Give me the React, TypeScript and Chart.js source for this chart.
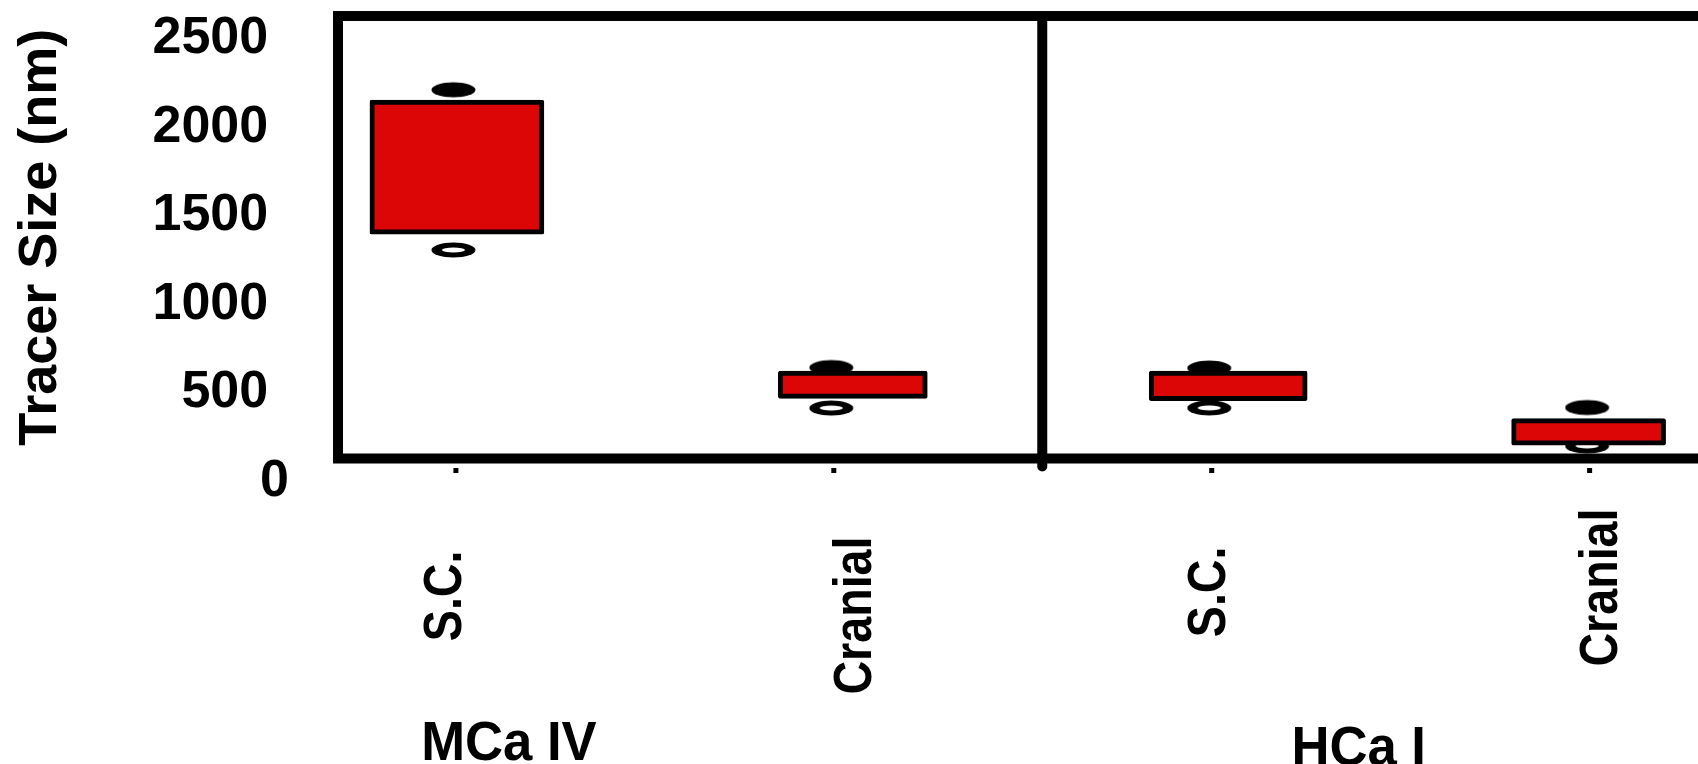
import React, { useEffect, useRef } from 'react';
import { Chart, registerables } from 'chart.js';

Chart.register(...registerables);

// ---------- data ----------
const categories = ['S.C.', 'Cranial', 'S.C.', 'Cranial'];
const groupLabels = ['MCa IV', 'HCa I'];
const groupFirstCategory = [0, 2];
const boxLow = [1268, 340, 327, 76];
const boxHigh = [2025, 494, 494, 225];
const upperMarker = [2083, 514, 511, 288];
const lowerMarker = [1178, 285, 286, 71];
const yTickValues = [0, 500, 1000, 1500, 2000, 2500];
const yTitle = 'Tracer Size (nm)';

// ---------- styles ----------
const FONT = "'Liberation Sans', Arial, Helvetica, sans-serif";
const RED = 'rgb(221, 6, 6)';
const X_MIN = 0.688;
const X_MAX = 4.263;
const BOX_WIDTH = [174, 149, 158, 154];
const BOX_SHIFT = [1, 19, 16.5, -1];
const CAT_LABEL_DX = [-10, 23, -1, 13];
const CAT_LABEL_DY = [92, 78, 88, 50];
const GROUP_LABEL_DX = [53, 147];
const GROUP_LABEL_DY = [301.5, 306.5];
const DIVIDER_SHIFT = 19.5;

function makeEllipse(filled: boolean): HTMLCanvasElement {
  const c = document.createElement('canvas');
  c.width = 50;
  c.height = 18;
  const g = c.getContext('2d')!;
  g.fillStyle = '#000';
  g.beginPath();
  g.ellipse(22.5, 9, 22, 7.5, 0, 0, Math.PI * 2);
  g.fill();
  if (!filled) {
    g.fillStyle = '#fff';
    g.beginPath();
    g.ellipse(22.5, 9, 11.5, 2.4, 0, 0, Math.PI * 2);
    g.fill();
  }
  return c;
}

const framePlugin = {
  id: 'framePlugin',
  afterDatasetsUpdate(chart: any) {
    const xs = chart.scales.x;
    const meta = chart.getDatasetMeta(0);
    meta.data.forEach((el: any, i: number) => {
      el.x = xs.getPixelForValue(i + 1) + BOX_SHIFT[i];
      el.width = BOX_WIDTH[i];
    });
  },
  beforeDatasetsDraw(chart: any) {
    const { ctx, chartArea } = chart;
    const { left, top, right, bottom } = chartArea;
    const xs = chart.scales.x;
    ctx.save();
    ctx.strokeStyle = '#000';
    ctx.lineWidth = 10;
    ctx.lineJoin = 'miter';
    ctx.lineCap = 'butt';
    ctx.beginPath();
    ctx.moveTo(right + 20, top);
    ctx.lineTo(left, top);
    ctx.lineTo(left, bottom);
    ctx.lineTo(right + 20, bottom);
    ctx.stroke();
    const g = groupFirstCategory[1];
    const dvx = (xs.getPixelForValue(g) + xs.getPixelForValue(g + 1)) / 2 + DIVIDER_SHIFT;
    ctx.lineCap = 'round';
    ctx.beginPath();
    ctx.moveTo(dvx, top);
    ctx.lineTo(dvx, bottom + 8);
    ctx.stroke();
    ctx.restore();
  },
  afterDraw(chart: any) {
    const { ctx, chartArea } = chart;
    const { bottom } = chartArea;
    const xs = chart.scales.x;
    ctx.save();
    ctx.fillStyle = '#000';
    categories.forEach((_, i) => {
      const px = xs.getPixelForValue(i + 1);
      ctx.fillRect(px - 2.5, bottom + 9.5, 5, 5);
    });
    ctx.font = `bold 53px ${FONT}`;
    ctx.textAlign = 'right';
    ctx.textBaseline = 'middle';
    categories.forEach((lab, i) => {
      const px = xs.getPixelForValue(i + 1) + CAT_LABEL_DX[i];
      ctx.save();
      ctx.translate(px, bottom + CAT_LABEL_DY[i]);
      ctx.rotate(-Math.PI / 2);
      ctx.scale(0.88, 1);
      ctx.fillText(lab, 0, 0);
      ctx.restore();
    });
    ctx.font = `bold 56px ${FONT}`;
    ctx.textAlign = 'center';
    ctx.textBaseline = 'alphabetic';
    groupLabels.forEach((lab, k) => {
      const px = xs.getPixelForValue(groupFirstCategory[k] + 1) + GROUP_LABEL_DX[k];
      ctx.save();
      ctx.translate(px, bottom + GROUP_LABEL_DY[k]);
      ctx.scale(0.94, 1);
      ctx.fillText(lab, 0, 0);
      ctx.restore();
    });
    ctx.restore();
  },
};

export default function App() {
  const ref = useRef<HTMLCanvasElement | null>(null);

  useEffect(() => {
    if (!ref.current) return;
    const filled = makeEllipse(true);
    const open = makeEllipse(false);
    const chart = new Chart(ref.current, {
      type: 'bar',
      data: {
        datasets: [
          {
            type: 'bar',
            data: categories.map((_, i) => ({ x: i + 1, y: [boxLow[i], boxHigh[i]] })) as any,
            backgroundColor: RED,
            borderColor: '#000',
            borderWidth: 5,
            borderSkipped: false,
            borderRadius: 2,
            barThickness: 150,
            order: 0,
          } as any,
          {
            type: 'scatter',
            data: categories.map((_, i) => ({ x: i + 1, y: upperMarker[i] })),
            pointStyle: filled,
            pointRadius: 8,
            showLine: false,
            order: 1,
          } as any,
          {
            type: 'scatter',
            data: categories.map((_, i) => ({ x: i + 1, y: lowerMarker[i] })),
            pointStyle: open,
            pointRadius: 8,
            showLine: false,
            order: 1,
          } as any,
        ],
      },
      options: {
        responsive: false,
        animation: false,
        events: [],
        layout: { padding: { top: 16, bottom: 305.5, left: 0, right: 0 } },
        plugins: { legend: { display: false }, tooltip: { enabled: false } },
        scales: {
          x: {
            type: 'linear',
            display: false,
            offset: false,
            min: X_MIN,
            max: X_MAX,
          },
          y: {
            type: 'linear',
            min: 0,
            max: 2500,
            grid: { display: false, drawTicks: false },
            border: { display: false },
            afterBuildTicks: (s: any) => {
              s.ticks = yTickValues.map((v) => ({ value: v }));
            },
            afterFit: (s: any) => {
              s.width = 338;
              s.paddingTop = 0;
              s.paddingBottom = 0;
            },
            ticks: {
              color: '#000',
              font: { family: FONT, size: 52, weight: 'bold' },
              padding: 49,
              labelOffset: 23,
              callback: (v: any) => (Number(v) === 0 ? '0' : `${v}\u2009\u2009`),
            },
            title: {
              display: true,
              text: yTitle,
              color: '#000',
              font: { family: FONT, size: 54, weight: 'bold' },
              padding: { top: 9, bottom: 0 },
            },
          },
        },
      },
      plugins: [framePlugin],
    } as any);
    return () => chart.destroy();
  }, []);

  return (
    <div style={{ position: 'fixed', left: 0, top: 0, width: 1698, height: 764, background: '#fff', overflow: 'hidden' }}>
      <canvas ref={ref} width={1698} height={764} style={{ display: 'block' }} />
    </div>
  );
}
